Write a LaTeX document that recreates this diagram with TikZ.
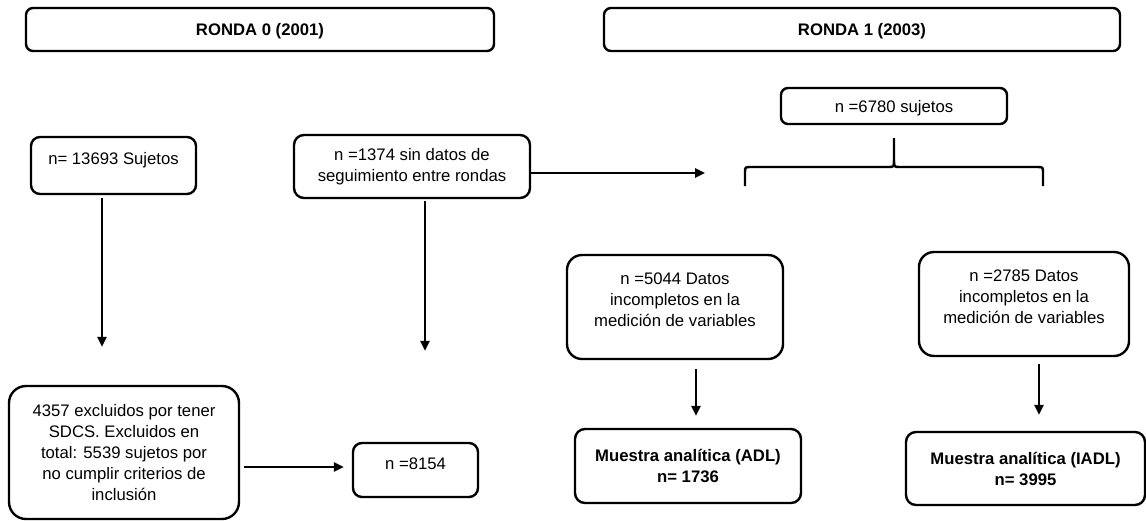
\documentclass[tikz,border=0pt]{standalone}
\usepackage{fontspec}
\setmainfont{Liberation Sans}
\usetikzlibrary{arrows.meta}
\begin{document}
\begin{tikzpicture}[x=1pt,y=-1pt,
  box/.style={draw=black, line width=2.4pt, rounded corners=#1, inner sep=0pt, align=center,
    font=\fontsize{16.7}{21}\selectfont},
  box/.default=8pt,
  bf/.style={font=\fontsize{16.7}{21}\selectfont\bfseries},
  arr/.style={line width=2.4pt, -{Triangle[length=10pt,width=9pt]}},
  ln/.style={line width=2.4pt}]
\useasboundingbox (0,0) rectangle (1146,520);

% headers
\node[box=7pt, bf, minimum width=468pt, minimum height=43pt, text height=12pt, text depth=0pt] (r0) at (260,29.5) {RONDA 0 (2001)};
\node[box=7pt, bf, minimum width=516pt, minimum height=43pt, text height=12pt, text depth=0pt] (r1) at (862,29.5) {RONDA 1 (2003)};

% round 0
\node[box=9pt, minimum width=165pt, minimum height=57pt, text height=12pt, text depth=15pt] (n13693) at (113.5,165.5) {n= 13693 Sujetos};
\node[box=10pt, minimum width=236pt, minimum height=63pt] (n1374) at (412,166.5) {n =1374 sin datos de\\seguimiento entre rondas};
\node[box=17pt, minimum width=230pt, minimum height=133pt] (n4357) at (124,452.5) {4357 excluidos por tener\\SDCS. Excluidos en\\total: 5539 sujetos por\\no cumplir criterios de\\inclusión};
\node[box=9pt, minimum width=125pt, minimum height=54pt, text height=12pt, text depth=14pt] (n8154) at (415.5,470) {n =8154};

% round 1
\node[box=7pt, minimum width=226pt, minimum height=36pt, text height=12pt, text depth=-1pt] (n6780) at (894,106) {n =6780 sujetos};
\node[box=15pt, minimum width=216pt, minimum height=104pt, text depth=15pt] (n5044) at (675,307) {n =5044 Datos\\incompletos en la\\medición de variables};
\node[box=15pt, minimum width=210pt, minimum height=104pt, text depth=15pt] (n2785) at (1024,304) {n =2785 Datos\\incompletos en la\\medición de variables};
\node[box=10pt, bf, minimum width=226pt, minimum height=74pt] (adl) at (688,466) {Muestra analítica (ADL)\\n= 1736};
\node[box=10pt, bf, minimum width=239pt, minimum height=73pt] (iadl) at (1025.5,468.5) {Muestra analítica (IADL)\\n= 3995};

% arrows
\draw[arr, shorten <=3pt, shorten >=38pt] ([xshift=-11.5pt]n13693.south) -- ([xshift=-11.5pt]n13693.south |- n4357.north);
\draw[arr, shorten <=2pt, shorten >=91pt] ([xshift=13pt]n1374.south) -- ([xshift=13pt]n1374.south |- n8154.north);
\coordinate (tip) at (705,173);
\draw[arr] ([yshift=-6.5pt]n1374.east) -- (tip);
\draw[arr, shorten <=4pt, shorten >=8pt] ([yshift=-14.5pt]n4357.east) -- ([yshift=-14.5pt]n4357.east -| n8154.west);
\draw[arr, shorten <=9pt, shorten >=12pt] ([xshift=21pt]n5044.south) -- ([xshift=21pt]n5044.south |- adl.north);
\draw[arr, shorten <=7pt, shorten >=16pt] ([xshift=15pt]n2785.south) -- ([xshift=15pt]n2785.south |- iadl.north);

% brace
\coordinate (bs) at ([yshift=-13pt]n6780.south);
\draw[ln, line join=round] (bs) -- (894,160) .. controls (894,167) .. (888,167) -- (751,167) .. controls (745,167) .. (745,173) -- (745,186);
\draw[ln, line join=round] (894,160) .. controls (894,167) .. (900,167) -- (1037,167) .. controls (1043,167) .. (1043,173) -- (1043,186);
\end{tikzpicture}
\end{document}
